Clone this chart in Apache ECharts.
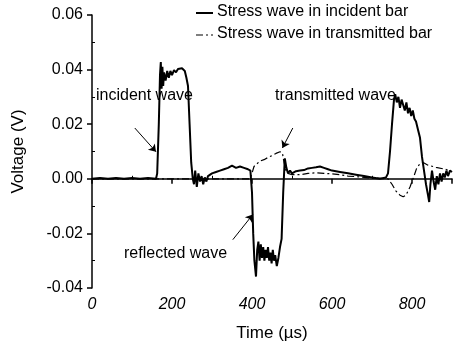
<!DOCTYPE html>
<html><head><meta charset="utf-8">
<script src="https://cdn.jsdelivr.net/npm/echarts@6/dist/echarts.min.js"></script>
<style>html,body{margin:0;padding:0;background:#fff}#c{width:454px;height:347px}</style>
</head><body><div id="c"></div>
<script>
const incidentTime = [0,20,40,60,80,100,120,140,160,163,167,170,172,174,176,178,180,184,188,192,196,200,205,210,215,220,225,228,232,236,240,244,248,252,255,258,262,266,270,274,278,282,286,290,295,300,310,320,330,340,350,360,370,380,390,396,400,403,406,410,413,416,419,422,425,428,431,434,437,440,443,446,449,452,455,458,462,466,470,474,478,482,486,490,495,500,510,520,530,540,550,560,570,580,590,600,620,640,660,680,700,720,735,740,745,750,755,758,762,766,770,774,778,782,786,790,794,798,802,806,810,815,820,825,830,835,840,843,846,850,854,858,862,866,870,874,878,882,886,890,895,900];
const incidentValue = [0,0.0003,0,0.0003,0,0.0003,0,0.0003,0,0.002,0.02,0.038,0.0428,0.033,0.041,0.034,0.039,0.036,0.0395,0.037,0.0395,0.038,0.0398,0.039,0.0402,0.0398,0.0405,0.0403,0.0395,0.037,0.034,0.02,0.006,0.0,-0.002,0.003,-0.003,0.002,-0.001,0.001,-0.002,0.0005,-0.001,0.001,0.0015,0.002,0.0025,0.003,0.0035,0.004,0.0048,0.004,0.0045,0.004,0.0035,0.003,-0.005,-0.02,-0.03,-0.0358,-0.026,-0.023,-0.03,-0.024,-0.029,-0.025,-0.03,-0.026,-0.029,-0.025,-0.03,-0.027,-0.031,-0.026,-0.03,-0.028,-0.032,-0.029,-0.025,-0.022,-0.005,0.0075,0.004,0.002,0.003,0.002,0.0028,0.003,0.0032,0.0038,0.004,0.0042,0.0045,0.004,0.0035,0.003,0.0025,0.002,0.0015,0.001,0.0005,0.0,0.0005,0.002,0.01,0.02,0.029,0.031,0.028,0.03,0.026,0.029,0.027,0.025,0.028,0.024,0.026,0.023,0.025,0.022,0.021,0.018,0.015,0.008,0.003,-0.002,-0.006,-0.0085,-0.002,0.003,-0.001,-0.004,0.001,-0.002,0.002,-0.001,0.002,0.0005,0.003,0.001,0.003,0.0025];
const transmittedTime = [0,100,200,300,395,400,405,420,430,440,450,460,470,476,480,485,490,500,520,540,560,580,600,620,640,660,680,700,720,740,750,760,770,778,785,795,805,812,820,828,840,860,880,895];
const transmittedValue = [0,0,0,0,0,0.002,0.0045,0.0065,0.007,0.0078,0.0085,0.0093,0.0099,0.0095,0.006,0.003,0.002,0.0015,0.0015,0.002,0.0022,0.002,0.0018,0.0015,0.001,0.0008,0.0005,0.0003,0.0002,0,-0.002,-0.0045,-0.006,-0.0066,-0.006,-0.003,0.001,0.004,0.0055,0.006,0.005,0.0042,0.0036,0.003];
const seriesNames = ['Stress wave in incident bar','Stress wave in transmitted bar'];
const xTicks = {min:0, max:900, interval:200};
const yTicks = {min:-0.04, max:0.06, interval:0.02};
const annotations = [
  {text:'incident wave', from:[107,0.0186], to:[160,0.0099]},
  {text:'reflected wave', from:[352,-0.0223], to:[402,-0.0131]},
  {text:'transmitted wave', from:[502,0.0186], to:[476,0.0113]}
];

const zip = (a,b)=>a.map((t,i)=>[t,b[i]]);
const chart = echarts.init(document.getElementById('c'));
const font = 'Liberation Sans, Arial, sans-serif';
const dashDot = [7,3,2,3];
chart.setOption({
  animation:false,
  backgroundColor:'#fff',
  grid:{left:92,right:2,top:15,bottom:58},
  legend:{show:false,data:seriesNames},
  xAxis:{type:'value',min:xTicks.min,max:xTicks.max,interval:xTicks.interval,
    name:'Time (\u00b5s)',nameLocation:'middle',nameGap:37,
    nameTextStyle:{fontFamily:font,fontSize:17,color:'#000'},
    axisLine:{lineStyle:{color:'#000',width:1.5}},
    axisTick:{length:5,lineStyle:{color:'#000',width:1.5}},
    minorTick:{show:true,splitNumber:2,length:-3,lineStyle:{color:'#000'}},
    axisLabel:{fontFamily:font,fontSize:16,color:'#000',fontStyle:'italic',margin:9,showMaxLabel:false},
    splitLine:{show:false}},
  yAxis:{type:'value',min:yTicks.min,max:yTicks.max,interval:yTicks.interval,
    name:'Voltage (V)',nameLocation:'middle',nameGap:65,
    nameTextStyle:{fontFamily:font,fontSize:17,color:'#000'},
    axisLine:{show:true,lineStyle:{color:'#000',width:1.5}},
    axisTick:{show:true,length:5,lineStyle:{color:'#000',width:1.5}},
    minorTick:{show:true,splitNumber:2,length:-3,lineStyle:{color:'#000'}},
    axisLabel:{fontFamily:font,fontSize:16,color:'#000',margin:9,formatter:v=>v.toFixed(2)},
    splitLine:{show:false}},
  series:[
    {name:seriesNames[0],type:'line',symbol:'none',data:zip(incidentTime,incidentValue),
     lineStyle:{color:'#000',width:2},itemStyle:{color:'#000'},z:3,
     markLine:{silent:true,symbol:['none','arrow'],symbolSize:7,label:{show:false},
       lineStyle:{color:'#000',width:1,type:'solid'},
       data:annotations.map(a=>[{coord:a.from},{coord:a.to}])}},
    {name:seriesNames[1],type:'line',symbol:'none',data:zip(transmittedTime,transmittedValue),
     lineStyle:{color:'#000',width:1.2,type:dashDot},itemStyle:{color:'#000'},z:2}
  ],
  graphic:[
    {type:'line',shape:{x1:196,y1:13,x2:213,y2:13},style:{stroke:'#000',lineWidth:2}},
    {type:'text',left:217,top:4,style:{text:seriesNames[0],font:'16px '+font,fill:'#000'}},
    {type:'line',shape:{x1:196,y1:35,x2:213,y2:35},style:{stroke:'#000',lineWidth:1.2,lineDash:dashDot}},
    {type:'text',left:217,top:26,style:{text:seriesNames[1],font:'16px '+font,fill:'#000'}},
    {type:'text',left:96,top:88,style:{text:annotations[0].text,font:'16px '+font,fill:'#000'}},
    {type:'text',left:124,top:246,style:{text:annotations[1].text,font:'16px '+font,fill:'#000'}},
    {type:'text',left:275,top:88,style:{text:annotations[2].text,font:'16px '+font,fill:'#000'}}
  ]
});
</script></body></html>
